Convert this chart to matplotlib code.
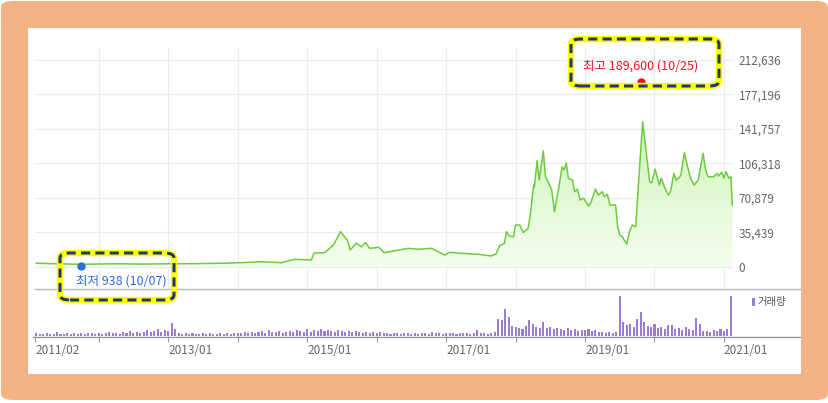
import numpy as np
import matplotlib
matplotlib.use('Agg')
import matplotlib.pyplot as plt
from matplotlib.patches import FancyBboxPatch, Rectangle
from matplotlib.lines import Line2D
from matplotlib.colors import LinearSegmentedColormap

plt.rcParams['font.family'] = ['Noto Sans CJK KR', 'DejaVu Sans']

# 종가 (연도 소수, 원)
years = [2011.10, 2011.30, 2011.55, 2011.74, 2012.00, 2012.30, 2012.60, 2013.00, 2013.40, 2013.80,
         2014.10, 2014.34, 2014.63, 2014.82, 2015.06, 2015.10, 2015.25, 2015.38, 2015.48, 2015.54,
         2015.58, 2015.62, 2015.71, 2015.78, 2015.84, 2015.90, 2016.03, 2016.11, 2016.26, 2016.46,
         2016.60, 2016.79, 2016.98, 2017.05, 2017.22, 2017.47, 2017.65, 2017.72, 2017.77, 2017.84,
         2017.87, 2017.91, 2017.97, 2018.00, 2018.06, 2018.11, 2018.18, 2018.21, 2018.26, 2018.27,
         2018.31, 2018.34, 2018.40, 2018.43, 2018.49, 2018.52, 2018.56, 2018.62, 2018.67, 2018.70,
         2018.73, 2018.76, 2018.82, 2018.85, 2018.89, 2018.93, 2018.98, 2019.05, 2019.09, 2019.15,
         2019.19, 2019.25, 2019.28, 2019.32, 2019.36, 2019.44, 2019.47, 2019.50, 2019.54, 2019.60,
         2019.64, 2019.68, 2019.73, 2019.77, 2019.83, 2019.86, 2019.93, 2019.96, 2020.01, 2020.07,
         2020.10, 2020.14, 2020.20, 2020.23, 2020.28, 2020.31, 2020.36, 2020.38, 2020.43, 2020.47,
         2020.52, 2020.57, 2020.63, 2020.66, 2020.70, 2020.73, 2020.77, 2020.85, 2020.90, 2020.92,
         2020.97, 2021.00, 2021.03, 2021.07, 2021.10, 2021.12]
prices = [3900, 3500, 3100, 2700, 3100, 3300, 3000, 3300, 3400, 3900,
          4600, 5400, 4400, 7900, 7200, 14400, 14700, 22600, 36300, 30800,
          27700, 17500, 24600, 20800, 25000, 19200, 20200, 14700, 16700, 19200,
          18200, 19200, 12300, 15100, 14100, 13000, 11300, 13400, 21900, 24300,
          36300, 31800, 31100, 43100, 43100, 35200, 39700, 51700, 84200, 81900,
          109200, 89300, 119400, 92700, 84200, 79100, 56800, 80800, 103000, 99600,
          107100, 91100, 89300, 77300, 79800, 68800, 70600, 62600, 67100, 80100,
          73900, 77300, 72200, 74700, 63700, 63700, 41000, 33000, 30500, 23600,
          36300, 43100, 41400, 86000, 149200, 130400, 87600, 86600, 100300, 84200,
          91100, 82500, 73900, 77300, 96200, 89300, 92100, 94500, 117400, 104800,
          91100, 84200, 89300, 101400, 116800, 101400, 92700, 92700, 96200, 93500,
          97300, 91100, 97900, 91100, 92700, 63700]

# 거래량 (2011.10 부터 0.05년 간격)
vol_start = 2011.10
vol_step = 0.05
volume = [3, 2, 2, 3, 2, 2, 4, 2, 2, 3, 2, 3, 2, 3, 2, 3, 3, 2,
          3, 2, 3, 4, 3, 3, 2, 4, 3, 5, 3, 4, 3, 4, 6, 4, 5, 7, 4, 6,
          5, 13, 7, 3, 2, 3, 2, 3, 2, 2, 3, 2, 3, 2, 2, 3, 2, 3, 2, 3,
          3, 3, 4, 3, 4, 3, 4, 5, 3, 6, 4, 4, 5, 3, 4, 5, 4, 6, 5, 4,
          7, 4, 6, 5, 7, 5, 6, 5, 4, 6, 5, 4, 5, 4, 5, 4, 3, 4, 3, 4,
          3, 4, 3, 3, 2, 3, 3, 2, 3, 3, 2, 3, 2, 3, 3, 2, 4, 3, 3, 2,
          3, 3, 3, 2, 3, 3, 3, 2, 3, 6, 3, 3, 2, 3, 4, 17, 16, 27, 19, 10,
          9, 8, 7, 10, 16, 12, 9, 8, 14, 8, 9, 7, 8, 7, 6, 8, 6, 7, 5, 6,
          6, 7, 5, 6, 4, 4, 3, 4, 3, 4, 40, 14, 11, 12, 9, 17, 24, 14, 10, 9,
          12, 8, 9, 7, 11, 11, 7, 8, 6, 9, 7, 6, 18, 12, 5, 5, 4, 6, 5, 7,
          5, 7, 40]

y_ticks = [0, 35439, 70879, 106318, 141757, 177196, 212636]
y_labels = ['0', '35,439', '70,879', '106,318', '141,757', '177,196', '212,636']
x_major = [2011.083, 2013, 2015, 2017, 2019, 2021]
x_labels = ['2011/02', '2013/01', '2015/01', '2017/01', '2019/01', '2021/01']
x_minor = [2012, 2014, 2016, 2018, 2020]

hi_text = '최고 189,600 (10/25)'
hi_point = (2019.81, 189600)
lo_text = '최저 938 (10/07)'
lo_point = (2011.74, 938)

W, H = 829, 403
def fx(x):
    return x / W
def fy(y):
    return 1 - y / H

fig = plt.figure(figsize=(W / 100, H / 100), dpi=100)
fig.patch.set_facecolor('white')

# 주황 테두리
fig.patches.append(FancyBboxPatch((fx(1), fy(400)), fx(827), 399 / H,
                                  boxstyle='round,pad=0,rounding_size=0.015',
                                  transform=fig.transFigure, fc='#F4B183', ec='none', zorder=-2))
fig.patches.append(Rectangle((fx(28), fy(374)), fx(773), 346 / H,
                             transform=fig.transFigure, fc='white', ec='none', zorder=-1))

xlim = (2011.083, 2021.13)

ax = fig.add_axes([fx(35), fy(288), fx(698), 240 / H])
ax.set_facecolor('none')
ax.set_xlim(*xlim)
ax.set_ylim(-21567, 224900)
for v in y_ticks:
    ax.axhline(v, color='#ececec', lw=0.9, zorder=0)
for v in x_minor + x_major[1:]:
    ax.axvline(v, color='#ececec', lw=0.9, zorder=0)

cmap = LinearSegmentedColormap.from_list('g', ['#f5fdf0', '#cff3b6'])
grad = np.linspace(0, 1, 256).reshape(-1, 1)
im = ax.imshow(grad, extent=[xlim[0], xlim[1], 0, 150000], origin='lower',
               aspect='auto', cmap=cmap, zorder=1)
poly = ax.fill_between(years, prices, 0, color='none', lw=0)
im.set_clip_path(poly.get_paths()[0], transform=ax.transData)
ax.set_xlim(*xlim)
ax.set_ylim(-21567, 224900)
ax.plot(years, prices, color='#6ccb3f', lw=1.1, zorder=3)

ax.yaxis.tick_right()
ax.set_yticks(y_ticks)
ax.set_yticklabels(y_labels)
ax.tick_params(axis='y', length=0, pad=4, labelsize=8.5, labelcolor='#666666')
ax.set_xticks([])
for s in ax.spines.values():
    s.set_visible(False)

# 거래량
vax = fig.add_axes([fx(35), fy(336), fx(698), 47 / H])
vax.set_facecolor('none')
vx = vol_start + vol_step * np.arange(len(volume))
vax.bar(vx, volume, width=0.03, color='#9b7dcf', lw=0)
vax.set_xlim(*xlim)
vax.set_ylim(0, 47)
vax.set_yticks([])
vax.set_xticks(x_major)
vax.set_xticklabels(x_labels)
vax.set_xticks(x_minor, minor=True)
vax.tick_params(axis='x', which='both', length=4, width=0.8, color='#999999',
                labelsize=8.5, labelcolor='#666666', pad=2)
for lab in vax.get_xticklabels():
    lab.set_horizontalalignment('left')
for s in vax.spines.values():
    s.set_visible(False)

fig.lines.append(Line2D([fx(35), fx(800)], [fy(288.5), fy(288.5)], transform=fig.transFigure,
                        color='#b5b5b5', lw=1))
fig.lines.append(Line2D([fx(33), fx(800)], [fy(336.5), fy(336.5)], transform=fig.transFigure,
                        color='#999999', lw=1))

fig.patches.append(Rectangle((fx(752), fy(306)), fx(3), 8 / H, transform=fig.transFigure,
                             fc='#9b7dcf', ec='none'))
fig.text(fx(757), fy(302), '거래량', fontsize=7.5, color='#555555', va='center')

# 최고/최저 표시
ax.plot(*hi_point, 'o', color='#ee1111', ms=5, zorder=5, clip_on=False)
ax.plot(*lo_point, 'o', color='#2a6fd6', ms=5, zorder=5, clip_on=False)
fig.text(fx(583), fy(66), hi_text, fontsize=9, color='#e8141e', va='center')
fig.text(fx(76), fy(281.5), lo_text, fontsize=9, color='#2a6fd6', va='center')

def mark_box(x0, y0, x1, y1):
    for ec, lw, ls in [('#ffff00', 4.6, '-'), ('#1f3c68', 2.2, (0, (3, 1.7)))]:
        fig.patches.append(FancyBboxPatch((fx(x0), fy(y1)), fx(x1 - x0), (y1 - y0) / H,
                                          boxstyle='round,pad=0,rounding_size=0.012',
                                          transform=fig.transFigure, fc='none', ec=ec,
                                          lw=lw, ls=ls, zorder=10))

mark_box(571, 39, 719, 86)
mark_box(60, 253, 174, 300)

fig.savefig('out.png', dpi=100)
